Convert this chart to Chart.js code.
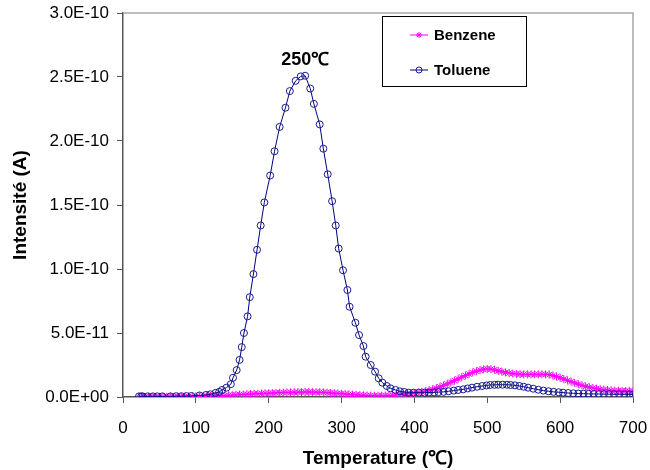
<!DOCTYPE html>
<html>
<head>
<meta charset="utf-8">
<script src="https://cdn.jsdelivr.net/npm/chart.js@4/dist/chart.umd.min.js"></script>
<style>
  html, body { margin: 0; padding: 0; background: #fff; }
  #wrap { width: 650px; height: 470px; }
</style>
</head>
<body>
<div id="wrap"><canvas id="tpd" width="650" height="470"></canvas></div>
<script>
// Current values are kept in units of 1E-10 A
const UNIT = 1e-10;
const PEAK_T = 250;

const benzeneTemp = [
  25, 30, 35, 40, 45, 50, 55, 60, 65, 70, 75, 80, 85, 90, 95, 100,
  105, 110, 115, 120, 125, 130, 135, 140, 145, 150, 155, 160, 165, 170, 175, 180,
  185, 190, 195, 200, 205, 210, 215, 220, 225, 230, 235, 240, 245, 250, 255, 260,
  265, 270, 275, 280, 285, 290, 295, 300, 305, 310, 315, 320, 325, 330, 335, 340,
  345, 350, 355, 360, 365, 370, 375, 380, 385, 390, 395, 400, 405, 410, 415, 420,
  425, 430, 435, 440, 445, 450, 455, 460, 465, 470, 475, 480, 485, 490, 495, 500,
  505, 510, 515, 520, 525, 530, 535, 540, 545, 550, 555, 560, 565, 570, 575, 580,
  585, 590, 595, 600, 605, 610, 615, 620, 625, 630, 635, 640, 645, 650, 655, 660,
  665, 670, 675, 680, 685, 690, 695, 700
];
const benzeneVal = [
  0.000, 0.000, 0.000, 0.000, 0.001, 0.001, 0.001, 0.001, 0.001, 0.002, 0.002, 0.002, 0.002, 0.003, 0.003, 0.004,
  0.005, 0.006, 0.007, 0.008, 0.009, 0.010, 0.011, 0.012, 0.014, 0.015, 0.017, 0.019, 0.020, 0.022, 0.023, 0.025,
  0.026, 0.027, 0.029, 0.030, 0.031, 0.032, 0.033, 0.034, 0.035, 0.036, 0.037, 0.038, 0.038, 0.039, 0.039, 0.038,
  0.038, 0.037, 0.036, 0.034, 0.032, 0.030, 0.028, 0.025, 0.023, 0.021, 0.019, 0.017, 0.015, 0.013, 0.012, 0.011,
  0.010, 0.010, 0.010, 0.011, 0.012, 0.014, 0.016, 0.019, 0.022, 0.025, 0.028, 0.031, 0.035, 0.040, 0.045, 0.052,
  0.060, 0.069, 0.079, 0.090, 0.102, 0.115, 0.128, 0.142, 0.155, 0.168, 0.180, 0.192, 0.202, 0.210, 0.216, 0.219,
  0.218, 0.213, 0.205, 0.198, 0.192, 0.187, 0.183, 0.180, 0.178, 0.177, 0.177, 0.177, 0.177, 0.177, 0.177, 0.177,
  0.175, 0.168, 0.160, 0.150, 0.140, 0.130, 0.120, 0.110, 0.100, 0.091, 0.083, 0.076, 0.070, 0.065, 0.060, 0.057,
  0.054, 0.052, 0.050, 0.049, 0.048, 0.047, 0.046, 0.045
];

const tolueneTemp = [
  22, 25, 27, 34, 41, 47, 54, 65, 73, 80, 87, 94, 105, 114, 120, 127,
  132, 136, 142, 148, 151, 156, 160, 163, 166, 171, 174, 179, 184, 189, 194, 202,
  208, 215, 223, 229, 237, 244, 250, 257, 262, 270, 275, 281, 287, 292, 296, 302,
  308, 311, 319, 324, 330, 333, 340, 346, 351, 356, 362, 367, 374, 380, 386, 392,
  399, 406, 414, 420, 427, 433, 440, 447, 454, 460, 467, 473, 479, 486, 493, 499,
  504, 510, 515, 521, 527, 532, 538, 544, 550, 556, 563, 570, 577, 584, 591, 598,
  604, 611, 618, 625, 632, 639, 646, 653, 660, 667, 674, 681, 688, 695, 700
];
const tolueneVal = [
  0.005, 0.005, 0.005, 0.005, 0.005, 0.005, 0.005, 0.005, 0.006, 0.006, 0.007, 0.008, 0.012, 0.016, 0.021, 0.032,
  0.040, 0.055, 0.073, 0.100, 0.150, 0.210, 0.290, 0.390, 0.500, 0.630, 0.780, 0.960, 1.150, 1.340, 1.520, 1.730,
  1.920, 2.110, 2.260, 2.390, 2.470, 2.505, 2.510, 2.410, 2.290, 2.130, 1.940, 1.740, 1.530, 1.340, 1.160, 0.990,
  0.836, 0.705, 0.580, 0.484, 0.398, 0.315, 0.250, 0.198, 0.146, 0.112, 0.086, 0.068, 0.055, 0.044, 0.039, 0.034,
  0.034, 0.034, 0.034, 0.035, 0.036, 0.038, 0.040, 0.045, 0.050, 0.055, 0.060, 0.067, 0.073, 0.080, 0.086, 0.090,
  0.094, 0.095, 0.096, 0.096, 0.096, 0.094, 0.091, 0.086, 0.080, 0.073, 0.065, 0.057, 0.050, 0.045, 0.040, 0.037,
  0.034, 0.031, 0.029, 0.027, 0.026, 0.025, 0.024, 0.023, 0.022, 0.022, 0.021, 0.021, 0.020, 0.020, 0.020
];

const xTicks = [0, 100, 200, 300, 400, 500, 600, 700];
const yMax = 3.0e-10;
const yStep = 5.0e-11;

const FONT = "'Liberation Sans', Arial, sans-serif";

function toPoints(temps, vals) {
  return temps.map((t, i) => ({ x: t, y: vals[i] * UNIT }));
}

// 3.0E-10 style labels with two-digit exponents
function sciLabel(v) {
  if (Math.abs(v) < 1e-20) return '0.0E+00';
  const [m, e] = v.toExponential(1).split('e');
  const n = parseInt(e, 10);
  const sign = n < 0 ? '-' : '+';
  return m + 'E' + sign + String(Math.abs(n)).padStart(2, '0');
}

// top and right edges of the plot frame
const frameEdges = {
  id: 'frameEdges',
  beforeDatasetsDraw(chart) {
    const { ctx, chartArea: a } = chart;
    ctx.save();
    ctx.strokeStyle = '#a8a8a8';
    ctx.lineWidth = 1.5;
    ctx.beginPath();
    ctx.moveTo(a.left, a.top);
    ctx.lineTo(a.right, a.top);
    ctx.lineTo(a.right, a.bottom);
    ctx.stroke();
    ctx.restore();
  }
};

// boxed legend inside the plot, upper right
const legendBox = {
  id: 'legendBox',
  afterDraw(chart) {
    const ctx = chart.ctx;
    ctx.save();
    ctx.fillStyle = '#fff';
    ctx.fillRect(382, 16, 144, 70);
    ctx.strokeStyle = '#000';
    ctx.lineWidth = 1;
    ctx.strokeRect(382.5, 16.5, 144, 70);
    chart.data.datasets.forEach((ds, i) => {
      const y = 35 + i * 35;
      ctx.strokeStyle = ds.borderColor;
      ctx.lineWidth = 1;
      ctx.beginPath();
      ctx.moveTo(410, y);
      ctx.lineTo(428, y);
      ctx.stroke();
      ctx.fillStyle = ds.pointBackgroundColor;
      ctx.strokeStyle = ds.pointBorderColor;
      Chart.helpers.drawPoint(ctx, {
        pointStyle: ds.pointStyle, radius: 3, borderWidth: 1, rotation: 0
      }, 419, y);
      ctx.fillStyle = '#000';
      ctx.font = 'bold 15px ' + FONT;
      ctx.textBaseline = 'middle';
      ctx.fillText(ds.label, 434, y + 1);
    });
    ctx.restore();
  }
};

// temperature of the toluene maximum
const peakLabel = {
  id: 'peakLabel',
  afterDatasetsDraw(chart) {
    const { ctx, scales } = chart;
    const peak = Math.max(...tolueneVal) * UNIT;
    ctx.save();
    ctx.fillStyle = '#000';
    ctx.font = 'bold 18px ' + FONT;
    ctx.textAlign = 'center';
    ctx.textBaseline = 'alphabetic';
    ctx.fillText(PEAK_T + '℃', scales.x.getPixelForValue(PEAK_T), scales.y.getPixelForValue(peak) - 11);
    ctx.restore();
  }
};

new Chart(document.getElementById('tpd'), {
  type: 'line',
  data: {
    datasets: [
      {
        label: 'Benzene',
        data: toPoints(benzeneTemp, benzeneVal),
        order: 1,
        borderColor: '#ff00ff',
        borderWidth: 1,
        pointStyle: 'star',
        pointRadius: 4,
        pointBorderColor: '#ff00ff',
        pointBackgroundColor: '#ff00ff',
        pointBorderWidth: 1,
        tension: 0
      },
      {
        label: 'Toluene',
        data: toPoints(tolueneTemp, tolueneVal),
        order: 0,
        borderColor: '#000080',
        borderWidth: 1,
        pointStyle: 'circle',
        pointRadius: 3.5,
        pointBorderColor: '#1a1a90',
        pointBackgroundColor: 'rgba(255,255,255,0)',
        pointBorderWidth: 1,
        tension: 0
      }
    ]
  },
  options: {
    responsive: false,
    animation: false,
    events: [],
    layout: { padding: { top: 13, right: 17, left: 0, bottom: 0 } },
    plugins: {
      legend: { display: false },
      tooltip: { enabled: false }
    },
    scales: {
      x: {
        type: 'linear',
        min: 0,
        max: 700,
        afterBuildTicks(scale) { scale.ticks = xTicks.map(v => ({ value: v })); },
        afterFit(scale) {
          scale.height = 73;
          scale.paddingLeft = 0;
          scale.paddingRight = 0;
        },
        grid: { drawOnChartArea: false, drawTicks: true, tickLength: 6, color: '#555', lineWidth: 1 },
        border: { color: '#555', width: 1.5 },
        ticks: { color: '#000', font: { family: FONT, size: 17 }, padding: 15, maxRotation: 0 },
        title: {
          display: true,
          text: 'Temperature (℃)',
          color: '#000',
          font: { family: FONT, size: 19, weight: 'bold' },
          padding: { top: 0, bottom: 0 }
        }
      },
      y: {
        min: 0,
        max: yMax,
        afterFit(scale) {
          scale.width = 123;
          scale.paddingTop = 0;
          scale.paddingBottom = 0;
        },
        grid: { drawOnChartArea: false, drawTicks: true, tickLength: 6, color: '#555', lineWidth: 1 },
        border: { color: '#555', width: 1.5 },
        ticks: {
          stepSize: yStep,
          color: '#000',
          font: { family: FONT, size: 17 },
          padding: 8,
          callback: v => sciLabel(v)
        },
        title: {
          display: true,
          text: 'Intensité (A)',
          color: '#000',
          font: { family: FONT, size: 19, weight: 'bold' },
          padding: { top: 9, bottom: 0 }
        }
      }
    }
  },
  plugins: [frameEdges, peakLabel, legendBox]
});
</script>
</body>
</html>
